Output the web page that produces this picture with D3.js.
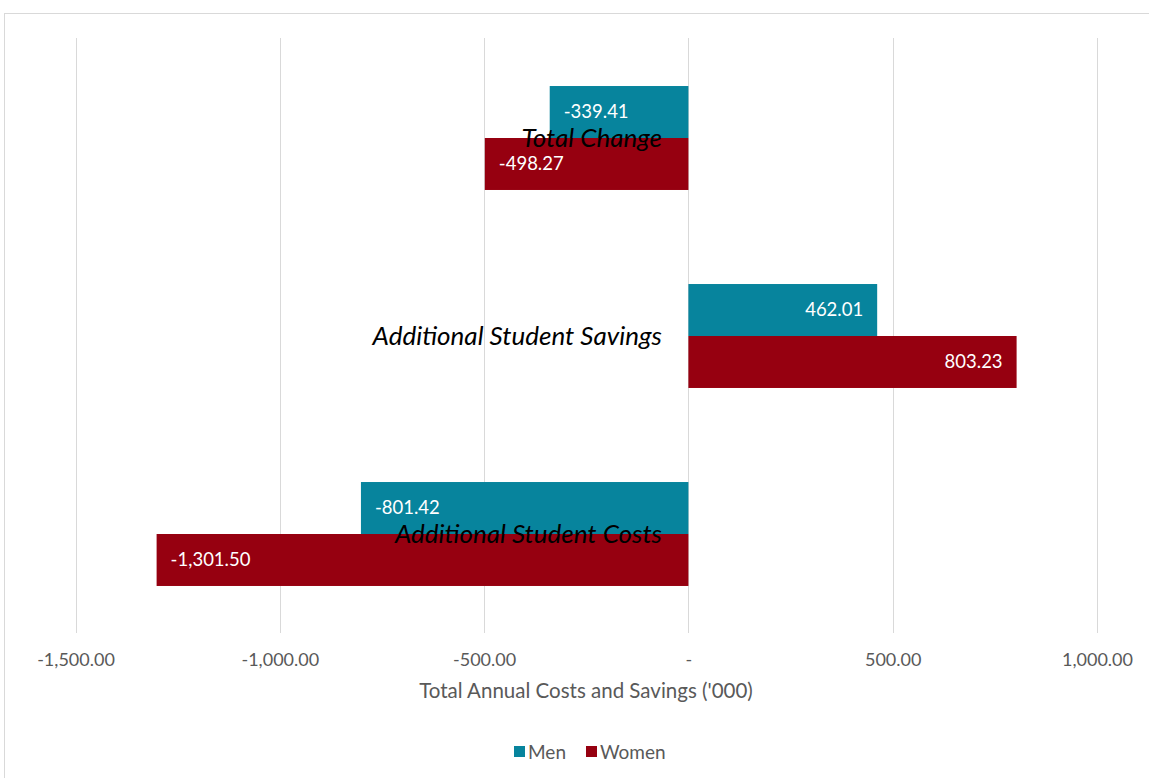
<!DOCTYPE html>
<html>
<head>
<meta charset="utf-8">
<script src="https://cdn.jsdelivr.net/npm/d3@7"></script>
<style>
  body { margin: 0; background: #fff; }
  text { font-family: Lato, "Open Sans", sans-serif; }
</style>
</head>
<body>
<svg id="chart" width="1149" height="778"></svg>
<script>
// categories, top to bottom as shown
var categories = ["Total Change", "Additional Student Savings", "Additional Student Costs"];
var series = ["Men", "Women"];
var menValues = [-339.41, 462.01, -801.42];
var womenValues = [-498.27, 803.23, -1301.50];
var tickValues = [-1500, -1000, -500, 0, 500, 1000];
var colors = { Men: "#07849d", Women: "#960010" };

var svg = d3.select("#chart");

// chart area border
svg.append("rect")
    .attr("x", 4.5).attr("y", 13.5)
    .attr("width", 1200).attr("height", 800)
    .attr("fill", "none")
    .attr("stroke", "#d9d9d9");

var x = d3.scaleLinear()
    .domain([-1500, 1000])
    .range([75.5, 1097]);

var y = d3.scaleBand()
    .domain(categories)
    .range([39, 633])
    .paddingInner(0.475)
    .paddingOuter(0.2375);

var ySub = d3.scaleBand()
    .domain(series)
    .range([0, y.bandwidth()]);

var fmt = function(v) { return d3.format(",.2f")(v).replace("\u2212", "-"); };

// gridlines
svg.append("g")
    .selectAll("line")
    .data(tickValues)
    .enter().append("line")
    .attr("x1", function(d) { return Math.round(x(d)) + 0.5; })
    .attr("x2", function(d) { return Math.round(x(d)) + 0.5; })
    .attr("y1", 38).attr("y2", 633)
    .attr("stroke", "#d9d9d9");

// axis tick labels
var axis = svg.append("g")
    .attr("transform", "translate(0,633)")
    .call(d3.axisBottom(x)
        .tickValues(tickValues)
        .tickSize(0)
        .tickPadding(20)
        .tickFormat(function(d) { return d === 0 ? "-" : fmt(d); }));
axis.select(".domain").remove();
axis.selectAll("text")
    .attr("fill", "#595959")
    .style("font-size", "18px");

svg.append("text")
    .attr("x", 586).attr("y", 698)
    .attr("text-anchor", "middle")
    .attr("fill", "#595959")
    .style("font-size", "20.5px")
    .text("Total Annual Costs and Savings ('000)");

// rows of data
var rows = categories.map(function(c, i) {
    return { cat: c, Men: menValues[i], Women: womenValues[i] };
});

var groups = svg.append("g")
    .selectAll("g")
    .data(rows)
    .enter().append("g")
    .attr("transform", function(d) { return "translate(0," + y(d.cat) + ")"; });

var bars = groups.selectAll("g.bar")
    .data(function(d) { return series.map(function(s) { return { s: s, v: d[s] }; }); })
    .enter().append("g")
    .attr("class", "bar");

bars.append("rect")
    .attr("x", function(d) { return x(Math.min(0, d.v)); })
    .attr("y", function(d) { return ySub(d.s); })
    .attr("width", function(d) { return Math.abs(x(d.v) - x(0)); })
    .attr("height", ySub.bandwidth())
    .attr("fill", function(d) { return colors[d.s]; });

bars.append("text")
    .attr("x", function(d) { return d.v < 0 ? x(d.v) + 14 : x(d.v) - 14; })
    .attr("y", function(d) { return ySub(d.s) + ySub.bandwidth() / 2; })
    .attr("dy", "0.35em")
    .attr("text-anchor", function(d) { return d.v < 0 ? "start" : "end"; })
    .attr("fill", "#fff")
    .style("font-size", "18.5px")
    .text(function(d) { return fmt(d.v); });

// category labels, drawn over the bars
groups.append("text")
    .attr("x", 662)
    .attr("y", y.bandwidth() / 2)
    .attr("dy", "0.35em")
    .attr("text-anchor", "end")
    .attr("fill", "#000")
    .style("font-size", "26px")
    .style("font-style", "italic")
    .text(function(d) { return d.cat; });

// legend
var legend = svg.append("g")
    .attr("transform", "translate(514,752)");
var items = legend.selectAll("g")
    .data(series)
    .enter().append("g")
    .attr("transform", function(d, i) { return "translate(" + (i * 72) + ",0)"; });
items.append("rect")
    .attr("x", 0).attr("y", -6)
    .attr("width", 11).attr("height", 11)
    .attr("fill", function(d) { return colors[d]; });
items.append("text")
    .attr("x", 14).attr("y", 0)
    .attr("dy", "0.35em")
    .attr("fill", "#595959")
    .style("font-size", "19px")
    .text(function(d) { return d; });
</script>
</body>
</html>
